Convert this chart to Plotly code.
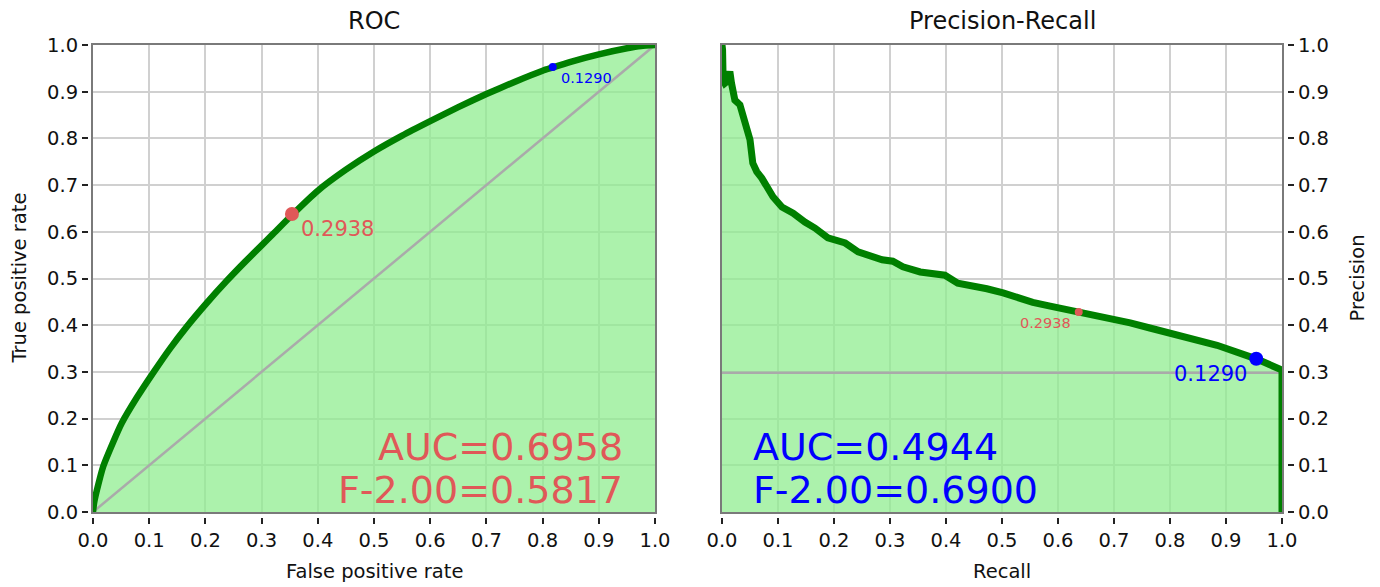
import plotly.graph_objects as go

# ---------------- data ----------------
roc_fpr = [0.0, 0.002, 0.007, 0.018, 0.036, 0.051, 0.078, 0.107, 0.137, 0.167, 0.202,
           0.238, 0.270, 0.300, 0.320, 0.354, 0.400, 0.450, 0.500, 0.550, 0.600,
           0.650, 0.700, 0.750, 0.800, 0.818, 0.850, 0.900, 0.950, 0.975, 1.0]
roc_tpr = [0.0, 0.020, 0.047, 0.097, 0.150, 0.190, 0.245, 0.298, 0.350, 0.397, 0.447,
           0.495, 0.535, 0.571, 0.595, 0.636, 0.688, 0.733, 0.772, 0.806, 0.837,
           0.867, 0.895, 0.921, 0.945, 0.952, 0.964, 0.980, 0.993, 0.998, 1.0]

pr_recall = [0.0, 0.001, 0.002, 0.005, 0.009, 0.014, 0.017, 0.023, 0.032, 0.041, 0.050,
             0.055, 0.062, 0.071, 0.080, 0.091, 0.107, 0.127, 0.148, 0.166, 0.189, 0.220,
             0.243, 0.266, 0.286, 0.305, 0.323, 0.354, 0.398, 0.421, 0.443, 0.473, 0.502,
             0.527, 0.555, 0.586, 0.637, 0.680, 0.705, 0.729, 0.764, 0.823, 0.884, 0.954,
             1.0, 1.0]
pr_precision = [1.0, 0.99, 0.925, 0.918, 0.922, 0.943, 0.918, 0.882, 0.872, 0.833, 0.797,
                0.747, 0.729, 0.715, 0.694, 0.675, 0.653, 0.640, 0.621, 0.608, 0.587, 0.576,
                0.557, 0.548, 0.540, 0.537, 0.525, 0.514, 0.507, 0.490, 0.486, 0.478, 0.469,
                0.458, 0.449, 0.441, 0.428, 0.418, 0.413, 0.405, 0.394, 0.375, 0.357, 0.328,
                0.304, 0.0]

pr_baseline = 0.298
chance_x = [0.0, 1.0]
chance_y = [0.0, 1.0]

thresholds = ["0.2938", "0.1290"]
roc_points_x = [0.354, 0.818]
roc_points_y = [0.638, 0.953]
pr_points_x = [0.637, 0.954]
pr_points_y = [0.428, 0.328]

roc_auc_text = ["AUC=0.6958", "F-2.00=0.5817"]
pr_auc_text = ["AUC=0.4944", "F-2.00=0.6900"]

tick_vals = [i / 10 for i in range(11)]
tick_text = [f"{v:.1f}" for v in tick_vals]

# ---------------- styling ----------------
OFF = 8                      # default page body margin
W, H = 1380 - OFF, 587 - OFF
FONT = "DejaVu Sans"
GREEN = "#008000"
FILL = "rgba(144,238,144,0.75)"
RED = "#E05858"
BLUE = "#0000FF"
GRID = "#d0d0d0"
SPINE = "#7a7a7a"
BASE = "#aaaaaa"


def fx(p):
    return (p - OFF) / W


def fy(p):
    return 1 - (p - OFF) / H


L_X0, L_X1 = 93, 655
R_X0, R_X1 = 722, 1282
Y0, Y1 = 512, 45

fig = go.Figure()

# ROC
fig.add_trace(go.Scatter(x=roc_fpr, y=roc_tpr, fill="tozeroy", fillcolor=FILL,
                         mode="lines", line=dict(width=0), hoverinfo="skip",
                         xaxis="x", yaxis="y", showlegend=False))
fig.add_trace(go.Scatter(x=chance_x, y=chance_y, mode="lines",
                         line=dict(color=BASE, width=2.5),
                         xaxis="x", yaxis="y", showlegend=False))
fig.add_trace(go.Scatter(x=roc_fpr, y=roc_tpr, mode="lines",
                         line=dict(color=GREEN, width=6.5, shape="spline", smoothing=0.6),
                         xaxis="x", yaxis="y", showlegend=False))
fig.add_trace(go.Scatter(x=roc_points_x, y=roc_points_y, mode="markers",
                         marker=dict(color=[RED, BLUE], size=[14, 8], opacity=1,
                                     line=dict(width=0)),
                         xaxis="x", yaxis="y", showlegend=False))

# PR
fig.add_trace(go.Scatter(x=pr_recall, y=pr_precision, fill="tozeroy", fillcolor=FILL,
                         mode="lines", line=dict(width=0), hoverinfo="skip",
                         xaxis="x2", yaxis="y2", showlegend=False))
fig.add_trace(go.Scatter(x=[0.0, 1.0], y=[pr_baseline, pr_baseline], mode="lines",
                         line=dict(color=BASE, width=2.5),
                         xaxis="x2", yaxis="y2", showlegend=False))
fig.add_trace(go.Scatter(x=pr_recall, y=pr_precision, mode="lines",
                         line=dict(color=GREEN, width=7),
                         xaxis="x2", yaxis="y2", showlegend=False))
fig.add_trace(go.Scatter(x=pr_points_x, y=pr_points_y, mode="markers",
                         marker=dict(color=[RED, BLUE], size=[8, 14], opacity=1,
                                     line=dict(width=0)),
                         xaxis="x2", yaxis="y2", showlegend=False))

# dummy traces so overlay tick axes are drawn
for xa, ya in (("x3", "y3"), ("x4", "y4")):
    fig.add_trace(go.Scatter(x=[0.5], y=[0.5], mode="markers",
                             marker=dict(size=1, opacity=0), hoverinfo="skip",
                             xaxis=xa, yaxis=ya, showlegend=False))

base_axis = dict(range=[0, 1], showline=True, mirror=True, linecolor=SPINE, linewidth=1.6,
                 showgrid=True, gridcolor=GRID, gridwidth=1.6, tickvals=tick_vals,
                 showticklabels=False, ticks="", zeroline=False, fixedrange=True,
                 automargin=False)
tick_axis = dict(range=[0, 1], showline=False, showgrid=False, zeroline=False,
                 tickvals=tick_vals, ticktext=tick_text, ticks="outside", ticklen=6,
                 tickwidth=1.5, tickcolor="#222222", automargin=False,
                 tickfont=dict(family=FONT, size=19.5, color="#111111"), fixedrange=True)

gap = 5
fig.update_layout(
    width=W, height=H,
    margin=dict(l=0, r=0, t=0, b=0, pad=0, autoexpand=False),
    paper_bgcolor="white", plot_bgcolor="white",
    font=dict(family=FONT, color="#111111"),
    xaxis=dict(base_axis, domain=[fx(L_X0), fx(L_X1)], anchor="y"),
    yaxis=dict(base_axis, domain=[fy(Y0), fy(Y1)], anchor="x"),
    xaxis2=dict(base_axis, domain=[fx(R_X0), fx(R_X1)], anchor="y2"),
    yaxis2=dict(base_axis, domain=[fy(Y0), fy(Y1)], anchor="x2"),
    xaxis3=dict(tick_axis, overlaying="x", anchor="free", position=fy(Y0 + gap), side="bottom"),
    yaxis3=dict(tick_axis, overlaying="y", anchor="free", position=fx(L_X0 - gap), side="left"),
    xaxis4=dict(tick_axis, overlaying="x2", anchor="free", position=fy(Y0 + gap), side="bottom"),
    yaxis4=dict(tick_axis, overlaying="y2", anchor="free", position=fx(R_X1 + gap), side="right"),
)

ann = []
# titles
ann.append(dict(text="ROC", x=fx((L_X0 + L_X1) / 2), y=fy(21), xref="paper", yref="paper",
                showarrow=False, font=dict(size=24, family=FONT), xanchor="center", yanchor="middle"))
ann.append(dict(text="Precision-Recall", x=fx((R_X0 + R_X1) / 2), y=fy(21), xref="paper", yref="paper",
                showarrow=False, font=dict(size=24, family=FONT), xanchor="center", yanchor="middle"))
# axis titles
ann.append(dict(text="False positive rate", x=fx((L_X0 + L_X1) / 2), y=fy(571), xref="paper", yref="paper",
                showarrow=False, font=dict(size=19.5, family=FONT), xanchor="center", yanchor="middle"))
ann.append(dict(text="Recall", x=fx((R_X0 + R_X1) / 2), y=fy(571), xref="paper", yref="paper",
                showarrow=False, font=dict(size=19.5, family=FONT), xanchor="center", yanchor="middle"))
ann.append(dict(text="True positive rate", x=fx(19), y=fy((Y0 + Y1) / 2), xref="paper", yref="paper",
                showarrow=False, textangle=-90, font=dict(size=19.5, family=FONT),
                xanchor="center", yanchor="middle"))
ann.append(dict(text="Precision", x=fx(1357), y=fy((Y0 + Y1) / 2), xref="paper", yref="paper",
                showarrow=False, textangle=-90, font=dict(size=19.5, family=FONT),
                xanchor="center", yanchor="middle"))

# threshold labels
ann.append(dict(text=thresholds[0], x=roc_points_x[0], y=roc_points_y[0], xref="x", yref="y",
                xshift=7, yshift=-15, showarrow=False, xanchor="left", yanchor="middle",
                font=dict(size=21, color=RED, family=FONT)))
ann.append(dict(text=thresholds[1], x=roc_points_x[1], y=roc_points_y[1], xref="x", yref="y",
                xshift=6, yshift=-11, showarrow=False, xanchor="left", yanchor="middle",
                font=dict(size=14.5, color=BLUE, family=FONT)))
ann.append(dict(text=thresholds[0], x=pr_points_x[0], y=pr_points_y[0], xref="x2", yref="y2",
                xshift=-6, yshift=-11, showarrow=False, xanchor="right", yanchor="middle",
                font=dict(size=14.5, color=RED, family=FONT)))
ann.append(dict(text=thresholds[1], x=pr_points_x[1], y=pr_points_y[1], xref="x2", yref="y2",
                xshift=-7, yshift=-15, showarrow=False, xanchor="right", yanchor="middle",
                font=dict(size=21, color=BLUE, family=FONT)))

# AUC / F texts
roc_text_x = (625 - L_X0) / (L_X1 - L_X0)
pr_text_x = (751 - R_X0) / (R_X1 - R_X0)
line_y = [(Y0 - 447) / (Y0 - Y1), (Y0 - 490) / (Y0 - Y1)]
for i in range(2):
    ann.append(dict(text=roc_auc_text[i], x=roc_text_x, y=line_y[i], xref="x", yref="y",
                    showarrow=False, xanchor="right", yanchor="middle",
                    font=dict(size=38, color=RED, family=FONT)))
    ann.append(dict(text=pr_auc_text[i], x=pr_text_x, y=line_y[i], xref="x2", yref="y2",
                    showarrow=False, xanchor="left", yanchor="middle",
                    font=dict(size=38, color=BLUE, family=FONT)))

fig.update_layout(annotations=ann)
fig.write_html("out.html")
